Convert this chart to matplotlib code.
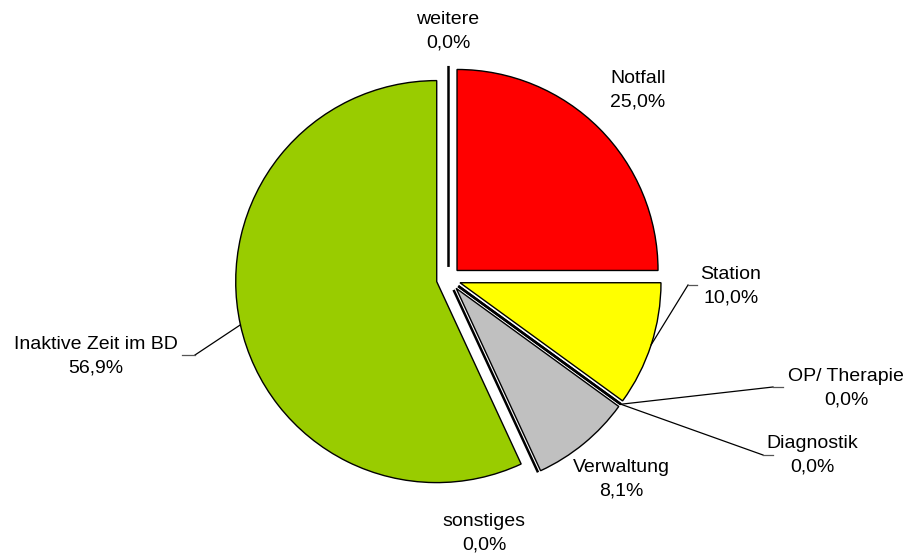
import matplotlib.pyplot as plt
import numpy as np

plt.rcParams['font.family'] = ['Liberation Sans', 'DejaVu Sans']

labels = ['Notfall', 'Station', 'OP/ Therapie', 'Diagnostik', 'Verwaltung',
          'sonstiges', 'Inaktive Zeit im BD', 'weitere']
values = [25.0, 10.0, 0.0, 0.0, 8.1, 0.0, 56.9, 0.0]
colors = ['#FF0000', '#FFFF00', '#3366FF', '#FF9900', '#C0C0C0',
          '#996633', '#99CC00', '#CCCCCC']

# pixel layout helpers (figure is 908x556, pie centre and radius in px)
W, H = 908, 556
CX, CY, R = 448.5, 279.0, 201.0
EXPL = 0.06


def px(x, y):
    return (x - CX) / R, (CY - y) / R


fig = plt.figure(figsize=(W / 100, H / 100), dpi=100)
ax = fig.add_axes([0, 0, 1, 1])

wedges, _ = ax.pie(values, colors=colors, startangle=90, counterclock=False,
                   explode=[EXPL] * len(values), radius=1.0,
                   wedgeprops=dict(edgecolor='black', linewidth=1.0))
for w, v in zip(wedges, values):
    if v == 0:
        w.set_linewidth(1.8)

# pie() resets the limits, so set them afterwards
ax.set_xlim(-CX / R, (W - CX) / R)
ax.set_ylim(-(H - CY) / R, CY / R)
ax.set_aspect('equal')
ax.axis('off')

# label text positions (px) and optional leader elbow/end (px)
label_pos = {
    'Notfall': (638, 90),
    'Station': (731, 286),
    'OP/ Therapie': (846, 388),
    'Diagnostik': (812, 455),
    'Verwaltung': (621, 479),
    'sonstiges': (484, 533),
    'Inaktive Zeit im BD': (96, 356),
    'weitere': (448, 31),
}
leaders = {
    'Station': [(688, 285), (697, 285)],
    'OP/ Therapie': [(773, 387), (783, 387)],
    'Diagnostik': [(763, 455), (773, 455)],
    'Inaktive Zeit im BD': [(195, 355), (182, 355)],
}

total = sum(values)
cum = 0.0
for lab, v in zip(labels, values):
    mid = cum + v / 2
    cum += v
    ang = np.deg2rad(90 - 360 * mid / total)
    pct = ('%.1f%%' % (100 * v / total)).replace('.', ',')
    tx, ty = px(*label_pos[lab])
    ax.text(tx, ty, lab + '\n' + pct, ha='center', va='center',
            fontsize=14, linespacing=1.5, color='black')
    if lab in leaders:
        ax_ = (1 + EXPL) * np.cos(ang)
        ay_ = (1 + EXPL) * np.sin(ang)
        pts = [(ax_, ay_)] + [px(*p) for p in leaders[lab]]
        xs, ys = zip(*pts)
        ax.plot(xs[:2], ys[:2], color='black', lw=0.9)
        ax.plot(xs[1:], ys[1:], color='#555555', lw=0.9)

fig.savefig('out.png', dpi=100)
